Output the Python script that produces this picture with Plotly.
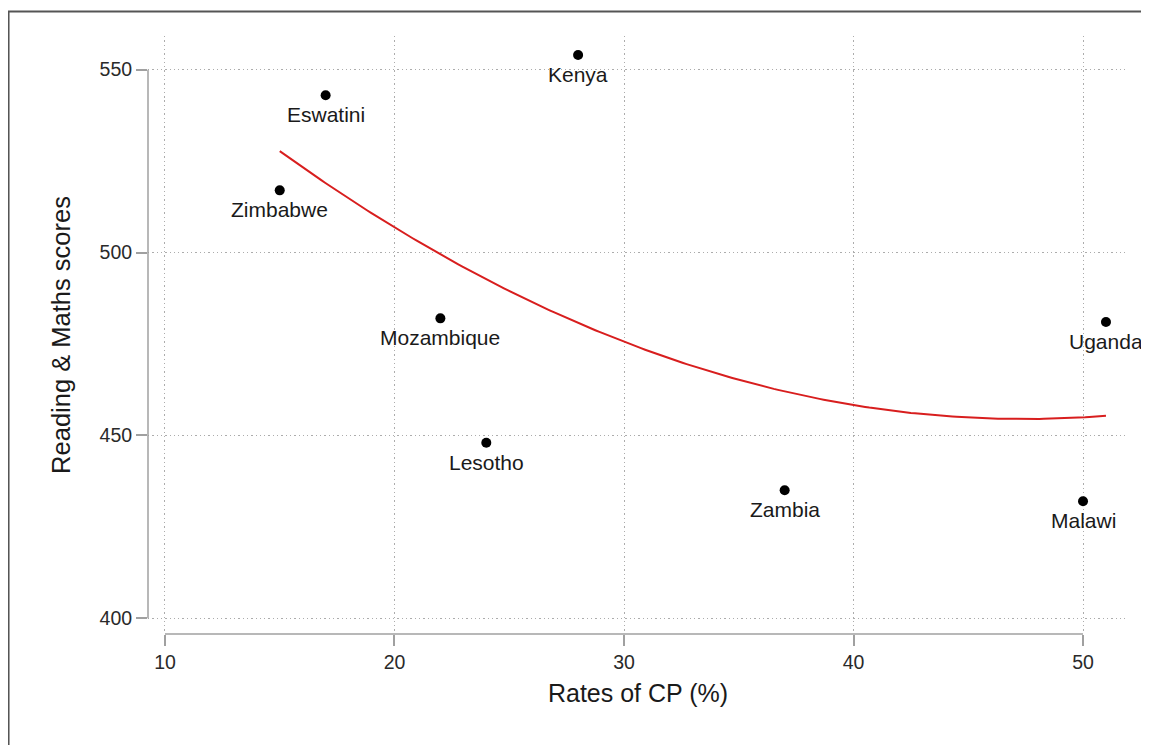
import numpy as np
import plotly.graph_objects as go

countries = ["Kenya", "Eswatini", "Zimbabwe", "Mozambique", "Lesotho", "Zambia", "Uganda", "Malawi"]
cp_rates = [28, 17, 15, 22, 24, 37, 51, 50]
scores = [554, 543, 517, 482, 448, 435, 481, 432]

x_ticks = [10, 20, 30, 40, 50]
y_ticks = [400, 450, 500, 550]

# quadratic fit line (as in the original qfit)
coef = np.polyfit(cp_rates, scores, 2)
fx = np.linspace(min(cp_rates), max(cp_rates), 200)
fy = np.polyval(coef, fx)

FONT = "Arial, Liberation Sans, Helvetica, sans-serif"

fig = go.Figure()
fig.add_trace(go.Scatter(x=fx, y=fy, mode="lines",
                         line=dict(color="#d81e1e", width=2),
                         hoverinfo="skip", showlegend=False, cliponaxis=False))
fig.add_trace(go.Scatter(x=cp_rates, y=scores, mode="markers",
                         marker=dict(color="black", size=10),
                         showlegend=False, cliponaxis=False))

annotations = [
    dict(x=xv, y=yv, text=name, showarrow=False, xanchor="center", yanchor="top",
         yshift=-6, font=dict(family=FONT, size=21, color="#1a1a1a"))
    for name, xv, yv in zip(countries, cp_rates, scores)
]

grid = dict(showgrid=True, gridcolor="#acacac", gridwidth=1.3, griddash="1.3px,3px",
            zeroline=False, showline=False, ticks="outside", ticklen=11,
            tickwidth=1.5, tickcolor="#a0a0a0",
            tickfont=dict(family=FONT, size=19.5, color="#2a2a2a"))

fig.update_xaxes(range=[9.26, 51.96], tickvals=x_ticks,
                 title=dict(text="Rates of CP (%)", standoff=12,
                            font=dict(family=FONT, size=25, color="#1a1a1a")),
                 **grid)
fig.update_yaxes(range=[395.7, 559.2], tickvals=y_ticks,
                 title=dict(text="Reading & Maths scores", standoff=21,
                            font=dict(family=FONT, size=25.5, color="#1a1a1a")),
                 **grid)

shapes = [
    dict(type="line", xref="x", yref="paper", x0=x_ticks[0], x1=x_ticks[-1], y0=0, y1=0,
         line=dict(color="#a0a0a0", width=1.5), layer="above"),
    dict(type="line", xref="paper", yref="y", x0=0, x1=0, y0=y_ticks[0], y1=y_ticks[-1],
         line=dict(color="#a0a0a0", width=1.5), layer="above"),
    dict(type="rect", xref="paper", yref="paper", x0=-0.1423, x1=1.2, y0=-0.4, y1=1.041,
         line=dict(color="#555555", width=2), fillcolor="rgba(0,0,0,0)", layer="above"),
]

# page body has an 8px margin, so the figure is offset by 8px
fig.update_layout(width=1141, height=737,
                  margin=dict(l=140, r=21, t=28, b=111),
                  paper_bgcolor="white", plot_bgcolor="white",
                  shapes=shapes, annotations=annotations, font=dict(family=FONT))

fig.write_html("out.html")
